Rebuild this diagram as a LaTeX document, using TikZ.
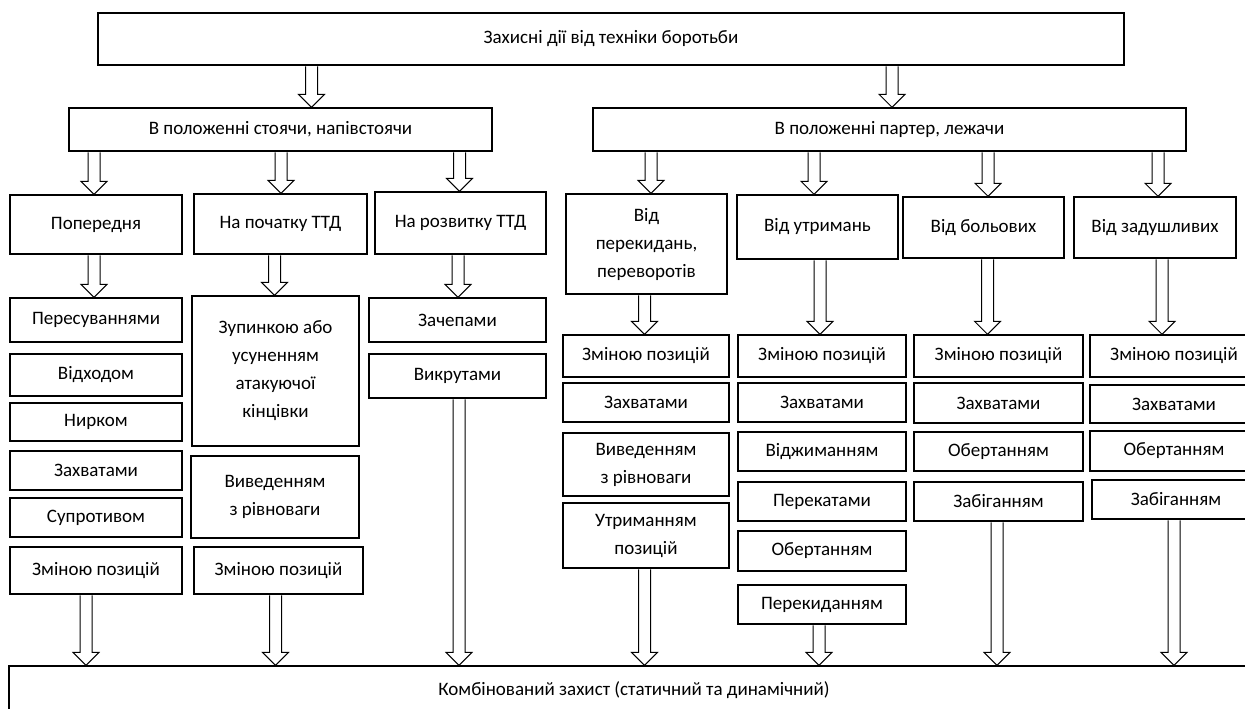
\documentclass[tikz,border=0pt]{standalone}
\usepackage{fontspec}
\setmainfont{Carlito}
\usetikzlibrary{calc}

\tikzset{
  fat/.style={draw, fill=white, line width=1pt, line join=miter},
  boxsize/.style 2 args={minimum width=#1pt, minimum height=#2pt}
}

\newcommand{\fatarrow}[3]{%
  \draw[fat] let \p1=(#2.south), \p2=(#3.north) in
    (#1pt-6pt,\y1-0.7pt) -- (#1pt-6pt,\y2+13pt) -- (#1pt-13pt,\y2+13pt)
    -- (#1pt,\y2) -- (#1pt+13pt,\y2+13pt) -- (#1pt+6pt,\y2+13pt)
    -- (#1pt+6pt,\y1-0.7pt);
}

\begin{document}
\begin{tikzpicture}[x=1pt, y=-1pt]
  \useasboundingbox (0,0) rectangle (1245,709);
  \fill[white] (0,0) rectangle (1245,709);
  \clip (0,0) rectangle (1245,709);
  \begin{scope}[
      every node/.style={draw, line width=1.4pt, align=center, inner sep=2pt,
        font=\fontsize{19}{28}\selectfont}
    ]

    \node[boxsize={1026}{52}] (top) at (611,39) {Захисні дії від техніки боротьби};
    \node[boxsize={423}{43}] (stand) at (280.5,129.5) {В положенні стоячи, напівстоячи};
    \node[boxsize={593}{43}] (parter) at (889.5,129.5) {В положенні партер, лежачи};

    \node[boxsize={172}{59}] (prev) at (96,224.5) {Попередня};
    \node[boxsize={173}{60}] (early) at (280.5,224) {На початку ТТД};
    \node[boxsize={171}{62}] (devel) at (460.5,223) {На розвитку ТТД};
    \node[boxsize={161}{100}] (throws) at (646.5,244) {Від\\перекидань,\\переворотів};
    \node[boxsize={161}{64}] (holds) at (817.5,227) {Від утримань};
    \node[boxsize={161}{61}] (pain) at (983.5,227.5) {Від больових};
    \node[boxsize={162}{61}] (choke) at (1155,227.5) {Від задушливих};

    \node[boxsize={172}{44}] (a1) at (96,320) {Пересуваннями};
    \node[boxsize={172}{42}] (a2) at (96,375) {Відходом};
    \node[boxsize={172}{38}] (a3) at (96,422) {Нирком};
    \node[boxsize={172}{39}] (a4) at (96,470.5) {Захватами};
    \node[boxsize={172}{39}] (a5) at (96,517.5) {Супротивом};
    \node[boxsize={172}{47}] (a6) at (96,570.5) {Зміною позицій};

    \node[boxsize={167}{150}] (b1) at (275.5,371) {Зупинкою або\\усуненням\\атакуючої\\кінцівки};
    \node[boxsize={168}{82}] (b2) at (275,497) {Виведенням\\з рівноваги};
    \node[boxsize={169}{47}] (b3) at (278.5,570.5) {Зміною позицій};

    \node[boxsize={177}{44}] (c1) at (457.5,320) {Зачепами};
    \node[boxsize={177}{44}] (c2) at (457.5,376) {Викрутами};

    \node[boxsize={166}{42}] (d1) at (646,356) {Зміною позицій};
    \node[boxsize={166}{39}] (d2) at (646,402.5) {Захватами};
    \node[boxsize={166}{63}] (d3) at (646,464.5) {Виведенням\\з рівноваги};
    \node[boxsize={166}{65}] (d4) at (646,535.5) {Утриманням\\позицій};

    \node[boxsize={168}{42}] (e1) at (822,356) {Зміною позицій};
    \node[boxsize={168}{39}] (e2) at (822,402.5) {Захватами};
    \node[boxsize={168}{39}] (e3) at (822,451.5) {Віджиманням};
    \node[boxsize={168}{39}] (e4) at (822,501.5) {Перекатами};
    \node[boxsize={168}{40}] (e5) at (822,551) {Обертанням};
    \node[boxsize={168}{39}] (e6) at (822,604.5) {Перекиданням};

    \node[boxsize={169}{42}] (f1) at (998.5,356) {Зміною позицій};
    \node[boxsize={169}{40}] (f2) at (998.5,403) {Захватами};
    \node[boxsize={169}{39}] (f3) at (998.5,451.5) {Обертанням};
    \node[boxsize={169}{39}] (f4) at (998.5,501.5) {Забіганням};

    \node[boxsize={168}{42}] (g1) at (1174,356) {Зміною позицій};
    \node[boxsize={168}{38}] (g2) at (1174,404) {Захватами};
    \node[boxsize={168}{40}] (g3) at (1174,451) {Обертанням};
    \node[boxsize={168}{39}] (g4) at (1176,499.5) {Забіганням};

    \node[boxsize={1250}{48}] (combo) at (634,690) {Комбінований захист (статичний та динамічний)};
  \end{scope}

  \fatarrow{311.5}{top}{stand}
  \fatarrow{892}{top}{parter}

  \fatarrow{94}{stand}{prev}
  \fatarrow{281}{stand}{early}
  \fatarrow{459.5}{stand}{devel}
  \fatarrow{651}{parter}{throws}
  \fatarrow{814}{parter}{holds}
  \fatarrow{988}{parter}{pain}
  \fatarrow{1158}{parter}{choke}

  \fatarrow{94}{prev}{a1}
  \fatarrow{274.5}{early}{b1}
  \fatarrow{458}{devel}{c1}
  \fatarrow{644.5}{throws}{d1}
  \fatarrow{820}{holds}{e1}
  \fatarrow{987.5}{pain}{f1}
  \fatarrow{1162}{choke}{g1}

  \fatarrow{86}{a6}{combo}
  \fatarrow{275.5}{b3}{combo}
  \fatarrow{459}{c2}{combo}
  \fatarrow{644.5}{d4}{combo}
  \fatarrow{819}{e6}{combo}
  \fatarrow{997}{f4}{combo}
  \fatarrow{1174}{g4}{combo}
\end{tikzpicture}
\end{document}
